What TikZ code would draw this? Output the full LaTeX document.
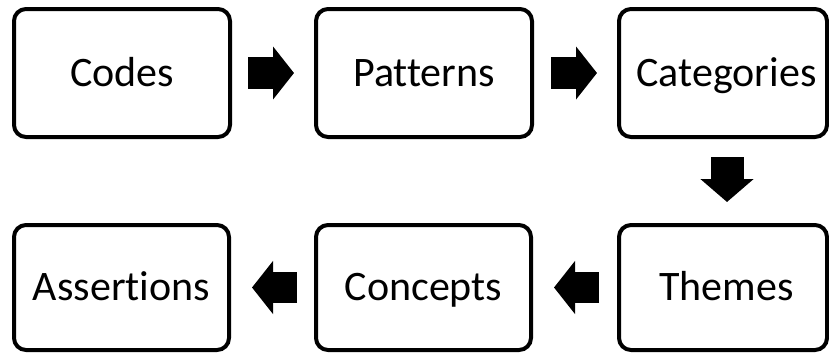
\documentclass[tikz,border=0pt]{standalone}
\usepackage{fontspec}
\setmainfont{Carlito}[Ligatures=NoCommon]
\usetikzlibrary{arrows.meta,calc}
\begin{document}
\begin{tikzpicture}[x=1pt,y=-1pt,
  box/.style={draw=black, fill=white, line width=4pt, rounded corners=12pt,
    minimum height=128pt, inner sep=0pt, text height=30pt, text depth=4pt,
    font=\fontsize{42}{50}\selectfont},
  flowarrow/.style={line width=32pt, line cap=butt,
    -{Triangle[length=21pt,width=52pt]}},
  flowdown/.style={line width=33pt, line cap=butt,
    -{Triangle[length=23pt,width=52pt]}}]
\useasboundingbox (0,0) rectangle (829,354);
% top row
\node[box, minimum width=216pt] (codes) at (122,73) {Codes};
\node[box, minimum width=216pt] (patterns) at (424,73) {Patterns};
\node[box, minimum width=208pt] (categories) at (723,73) {\hspace*{7pt}Categories};
% bottom row
\node[box, minimum width=215pt, minimum height=125pt] (assertions) at (121.5,287.5) {Assertions};
\node[box, minimum width=215pt, minimum height=125pt] (concepts) at (423.5,287.5) {Concepts};
\node[box, minimum width=208pt, minimum height=125pt] (themes) at (723,287.5) {\hspace*{7pt}Themes};
% connectors
\draw[flowarrow, shorten <=16pt, shorten >=20pt] (codes.east) -- (patterns.west);
\draw[flowarrow, shorten <=17pt, shorten >=20pt] (patterns.east) -- (categories.west);
\draw[flowdown, shorten <=18pt, shorten >=21pt] ([xshift=4pt]categories.south) -- ([xshift=4pt]themes.north);
\draw[flowarrow, line width=31pt, shorten <=18pt, shorten >=21pt] (themes.west) -- (concepts.east);
\draw[flowarrow, line width=31pt, shorten <=17pt, shorten >=21pt] (concepts.west) -- (assertions.east);
\end{tikzpicture}
\end{document}
